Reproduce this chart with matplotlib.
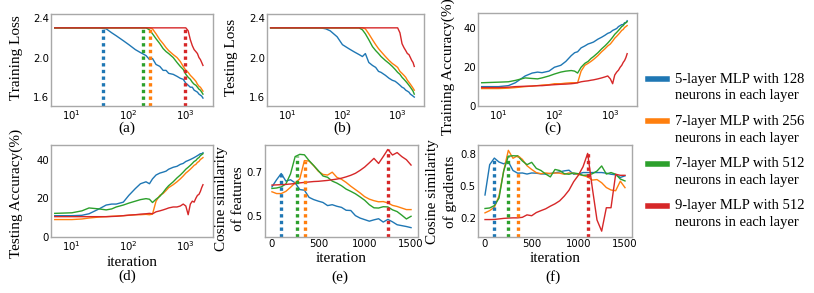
import numpy as np
import matplotlib
matplotlib.use('Agg')
import matplotlib.pyplot as plt
from matplotlib.lines import Line2D

# colours / legend text for the four models
colors = ['#1f77b4', '#ff7f0e', '#2ca02c', '#d62728']
labels = ['5-layer MLP with 128\nneurons in each layer',
          '7-layer MLP with 256\nneurons in each layer',
          '7-layer MLP with 512\nneurons in each layer',
          '9-layer MLP with 512\nneurons in each layer']

# iterations for the log-scale panels
it_log = [5, 10, 15, 20, 30, 40, 50, 60, 80, 100, 130, 160, 200, 230, 260, 300, 350, 400,
          450, 500, 600, 700, 800, 900, 1000, 1100, 1200, 1300, 1400, 1500, 1600, 1700,
          1800, 1900, 2000]

# (a) training loss  (blue, orange, green, red)
train_loss_blue = [2.30, 2.30, 2.30, 2.30, 2.30, 2.29, 2.25, 2.22, 2.17, 2.13, 2.08, 2.05, 2.02,
                   1.98, 1.99, 1.93, 1.91, 1.87, 1.87, 1.84, 1.83, 1.81, 1.79, 1.78, 1.74, 1.72,
                   1.70, 1.70, 1.67, 1.66, 1.65, 1.63, 1.62, 1.61, 1.59]
train_loss_orange = [2.30, 2.30, 2.30, 2.30, 2.30, 2.30, 2.30, 2.30, 2.30, 2.30, 2.30, 2.30, 2.30,
                     2.30, 2.29, 2.24, 2.18, 2.14, 2.10, 2.07, 2.03, 2.00, 1.96, 1.91, 1.87, 1.85,
                     1.82, 1.80, 1.78, 1.76, 1.73, 1.71, 1.70, 1.68, 1.66]
train_loss_green = [2.30, 2.30, 2.30, 2.30, 2.30, 2.30, 2.30, 2.30, 2.30, 2.30, 2.30, 2.30, 2.30,
                    2.28, 2.24, 2.19, 2.14, 2.09, 2.06, 2.04, 2.00, 1.95, 1.91, 1.88, 1.83, 1.80,
                    1.78, 1.75, 1.73, 1.72, 1.70, 1.68, 1.67, 1.65, 1.63]
train_loss_red = [2.30, 2.30, 2.30, 2.30, 2.30, 2.30, 2.30, 2.30, 2.30, 2.30, 2.30, 2.30, 2.30,
                  2.30, 2.30, 2.30, 2.30, 2.30, 2.30, 2.30, 2.30, 2.30, 2.30, 2.30, 2.30, 2.27,
                  2.18, 2.12, 2.08, 2.06, 2.04, 2.00, 1.98, 1.95, 1.92]
train_loss_marks = [35, 233, 176, 960]

# (b) testing loss
test_loss_blue = [2.30, 2.30, 2.30, 2.30, 2.30, 2.30, 2.29, 2.27, 2.21, 2.13, 2.09, 2.06, 2.03,
                  2.01, 2.04, 1.95, 1.92, 1.90, 1.86, 1.85, 1.82, 1.79, 1.77, 1.76, 1.74, 1.72,
                  1.70, 1.69, 1.67, 1.66, 1.65, 1.63, 1.62, 1.61, 1.60]
test_loss_orange = [2.30, 2.30, 2.30, 2.30, 2.30, 2.30, 2.30, 2.30, 2.30, 2.30, 2.30, 2.30, 2.30,
                    2.30, 2.29, 2.24, 2.18, 2.13, 2.09, 2.06, 2.01, 1.97, 1.94, 1.92, 1.90, 1.86,
                    1.84, 1.82, 1.80, 1.77, 1.75, 1.73, 1.71, 1.69, 1.67]
test_loss_green = [2.30, 2.30, 2.30, 2.30, 2.30, 2.30, 2.30, 2.30, 2.30, 2.30, 2.30, 2.30, 2.30,
                   2.28, 2.24, 2.18, 2.11, 2.07, 2.04, 2.01, 1.97, 1.94, 1.91, 1.88, 1.85, 1.83,
                   1.80, 1.78, 1.76, 1.74, 1.72, 1.70, 1.68, 1.66, 1.63]
test_loss_red = [2.30, 2.30, 2.30, 2.30, 2.30, 2.30, 2.30, 2.30, 2.30, 2.30, 2.30, 2.30, 2.30,
                 2.30, 2.30, 2.30, 2.30, 2.30, 2.30, 2.30, 2.30, 2.30, 2.30, 2.30, 2.30, 2.25,
                 2.14, 2.10, 2.07, 2.04, 2.03, 2.00, 1.97, 1.95, 1.91]

# (c) training accuracy (%)
train_acc_blue = [10, 10, 10.5, 12, 15.5, 17, 17.5, 17.2, 18, 20, 21, 23, 26, 27.5, 28, 30, 31,
                  32, 32.5, 33, 34.5, 35.5, 36.5, 37.5, 38, 39, 39.5, 40, 41, 41.5, 42, 42, 43,
                  43, 44]
train_acc_orange = [9, 9, 9.2, 9.5, 10, 10.3, 10.5, 10.8, 11, 11.5, 11.5, 11.8, 12, 12, 12, 18,
                    21, 22, 23, 24, 26, 28, 29.5, 31, 32, 33.5, 35, 36, 37, 38, 39, 39.5, 40.5,
                    41, 41.5]
train_acc_green = [12, 12.3, 12.5, 13.2, 14.5, 14.2, 14, 14.5, 15.5, 16.5, 17.5, 18, 18.3, 18,
                   17, 20, 22, 23, 24.5, 25.5, 27.5, 29.5, 31, 32.5, 34, 35.5, 37, 38, 39, 40,
                   41, 41.5, 42.5, 43, 43.5]
train_acc_red = [9.5, 9.5, 9.7, 10, 10.2, 10.3, 10.5, 10.5, 10.8, 11, 11.2, 11.3, 11.5, 11.7,
                 12, 12.5, 12.8, 13, 13.3, 13.5, 14, 14.5, 15, 15.5, 14, 11.5, 16, 17.5, 18.5,
                 20, 21, 22.5, 23.5, 25, 27]

# (d) testing accuracy (%)
test_acc_blue = [11, 11, 11.2, 12, 14.5, 16.5, 17, 17, 18, 21.5, 25, 27.5, 28.5, 27.5, 30, 32,
                 33, 33.5, 34, 35, 36, 36.5, 37.5, 38, 39, 39.5, 40, 40.5, 41, 41.5, 42, 42.5,
                 43, 43, 43.5]
test_acc_orange = [9, 9, 9.3, 9.8, 10.3, 10.5, 10.7, 10.8, 11, 11.2, 11.5, 11.5, 11.7, 11.5,
                   11.8, 18.5, 21.5, 22.5, 24, 25.5, 27, 28.5, 30, 31.5, 33, 34, 35, 36, 37,
                   37.5, 38.5, 39, 40, 40.5, 41]
test_acc_green = [12.2, 12.5, 13.5, 15, 14.5, 14, 14.5, 15.5, 16.5, 17.5, 18.5, 19.3, 19.8,
                  19.5, 17.8, 19.5, 21, 23, 25, 26.5, 28.5, 30.5, 32, 33.5, 35, 36, 37, 38, 39,
                  39.5, 40.5, 41, 42, 42.5, 43]
test_acc_red = [10.5, 10.5, 10.5, 10.5, 10.5, 10.5, 10.6, 10.7, 11, 11.3, 11.5, 11.8, 12, 12.2,
                12, 13, 13.5, 14, 14.5, 15, 15.5, 15.5, 16, 17, 16, 11.5, 17, 18.5, 18, 20,
                21.5, 22, 23.5, 25.5, 27]

# iterations for the linear panels
it_lin = list(range(0, 1501, 50))

# (e) cosine similarity of features
feat_blue = [0.632, 0.664, 0.692, 0.658, 0.664, 0.650, 0.620, 0.617, 0.585, 0.575, 0.568,
             0.562, 0.548, 0.552, 0.545, 0.540, 0.527, 0.526, 0.503, 0.492, 0.485, 0.478,
             0.484, 0.489, 0.474, 0.486, 0.475, 0.462, 0.458, 0.454, 0.449]
feat_orange = [0.610, 0.602, 0.602, 0.612, 0.630, 0.650, 0.668, 0.750, 0.748, 0.727, 0.702,
               0.688, 0.685, 0.698, 0.675, 0.666, 0.652, 0.635, 0.620, 0.605, 0.588, 0.577,
               0.570, 0.565, 0.566, 0.560, 0.549, 0.544, 0.537, 0.530, 0.530]
feat_green = [0.625, 0.627, 0.632, 0.645, 0.690, 0.768, 0.778, 0.776, 0.750, 0.728, 0.705,
              0.681, 0.675, 0.658, 0.649, 0.637, 0.622, 0.612, 0.601, 0.587, 0.572, 0.552,
              0.538, 0.537, 0.543, 0.542, 0.529, 0.521, 0.505, 0.488, 0.500]
feat_red = [0.640, 0.641, 0.642, 0.643, 0.645, 0.647, 0.650, 0.652, 0.654, 0.656, 0.657,
            0.659, 0.661, 0.664, 0.667, 0.671, 0.677, 0.684, 0.693, 0.706, 0.721, 0.740,
            0.760, 0.737, 0.768, 0.800, 0.775, 0.786, 0.768, 0.754, 0.730]
feat_marks = [100, 360, 270, 1250]

# (f) cosine similarity of gradients
grad_blue = [0.415, 0.700, 0.762, 0.725, 0.708, 0.728, 0.645, 0.620, 0.622, 0.612, 0.622,
             0.620, 0.613, 0.612, 0.617, 0.623, 0.632, 0.642, 0.648, 0.610, 0.612, 0.626,
             0.626, 0.626, 0.626, 0.626, 0.620, 0.610, 0.605, 0.580, 0.595]
grad_orange = [0.247, 0.268, 0.300, 0.405, 0.640, 0.835, 0.760, 0.784, 0.750, 0.690, 0.655,
               0.625, 0.615, 0.622, 0.617, 0.622, 0.620, 0.610, 0.622, 0.618, 0.608, 0.598,
               0.585, 0.555, 0.560, 0.530, 0.485, 0.462, 0.455, 0.545, 0.484]
grad_green = [0.288, 0.293, 0.315, 0.385, 0.640, 0.780, 0.784, 0.782, 0.735, 0.700, 0.722,
              0.665, 0.645, 0.612, 0.585, 0.655, 0.645, 0.615, 0.610, 0.622, 0.615, 0.600,
              0.602, 0.615, 0.640, 0.688, 0.612, 0.626, 0.610, 0.565, 0.547]
grad_red = [0.184, 0.184, 0.185, 0.190, 0.195, 0.198, 0.200, 0.200, 0.205, 0.228, 0.220,
            0.250, 0.268, 0.285, 0.310, 0.332, 0.360, 0.405, 0.460, 0.540, 0.600, 0.680,
            0.806, 0.480, 0.180, 0.075, 0.295, 0.295, 0.610, 0.600, 0.600]
grad_marks = [100, 350, 250, 1100]

serif = 'Liberation Serif'
plt.rcParams['font.family'] = ['DejaVu Sans']

fig = plt.figure(figsize=(8.14, 2.93), dpi=100)


def make_ax(left, top, right, bottom):
    # pixel box -> figure fraction
    ax = fig.add_axes([left / 814, 1 - bottom / 293, (right - left) / 814, (bottom - top) / 293])
    for s in ax.spines.values():
        s.set_color('#a8a8a8')
        s.set_linewidth(1.0)
    ax.tick_params(length=0, pad=1.5, labelsize=7.3)
    return ax


def draw(ax, x, series, marks=None):
    for ys, c in zip(series, colors):
        ax.plot(x, ys, color=c, lw=1.0)
    if marks is not None:
        y0 = ax.get_ylim()[0]
        for m, ys, c in zip(marks, series, colors):
            top = np.interp(m, x, ys)
            ax.vlines(m, y0, top, colors=c, lw=2.4, linestyles=(0, (1, 1)))


def ylab(ax, text, x, y):
    ax.set_ylabel(text, fontsize=11, family=serif, linespacing=1.45)
    ax.yaxis.set_label_coords(x, y)


# (a)
ax = make_ax(51, 14, 213, 106)
ax.set_xscale('log')
ax.set_xlim(4.3, 3000)
ax.set_ylim(1.51, 2.44)
ax.set_yticks([1.6, 2.0, 2.4])
draw(ax, it_log, [train_loss_blue, train_loss_orange, train_loss_green, train_loss_red],
     train_loss_marks)
ax.minorticks_off()
ylab(ax, 'Training Loss', -0.17, 0.53)

# (b)
ax = make_ax(267, 14, 424, 106)
ax.set_xscale('log')
ax.set_xlim(4.3, 3000)
ax.set_ylim(1.51, 2.44)
ax.set_yticks([1.6, 2.0, 2.4])
draw(ax, it_log, [test_loss_blue, test_loss_orange, test_loss_green, test_loss_red])
ax.minorticks_off()
ylab(ax, 'Testing Loss', -0.185, 0.53)

# (c)
ax = make_ax(478, 13, 637, 106)
ax.set_xscale('log')
ax.set_xlim(4.3, 3000)
ax.set_ylim(0, 48)
ax.set_yticks([0, 20, 40])
draw(ax, it_log, [train_acc_blue, train_acc_orange, train_acc_green, train_acc_red])
ax.minorticks_off()
ylab(ax, 'Training Accuracy(%)', -0.145, 0.42)

# (d)
ax = make_ax(51, 145, 213, 237)
ax.set_xscale('log')
ax.set_xlim(4.3, 3000)
ax.set_ylim(0, 47.5)
ax.set_yticks([0, 20, 40])
draw(ax, it_log, [test_acc_blue, test_acc_orange, test_acc_green, test_acc_red])
ax.minorticks_off()
ylab(ax, 'Testing Accuracy(%)', -0.17, 0.47)
ax.set_xlabel('iteration', fontsize=11, family=serif, labelpad=2)

# (e)
ax = make_ax(265, 145, 418, 237)
ax.set_xlim(-75, 1575)
ax.set_ylim(0.407, 0.82)
ax.set_yticks([0.5, 0.7])
ax.set_xticks([0, 500, 1000, 1500])
draw(ax, it_lin, [feat_blue, feat_orange, feat_green, feat_red], feat_marks)
ylab(ax, 'Cosine similarity\nof features', -0.13, 0.42)
ax.set_xlabel('iteration', fontsize=11, family=serif, labelpad=2)

# (f)
ax = make_ax(478, 145, 632, 237)
ax.set_xlim(-75, 1575)
ax.set_ylim(0.02, 0.885)
ax.set_yticks([0.2, 0.5, 0.8])
ax.set_xticks([0, 500, 1000, 1500])
draw(ax, it_lin, [grad_blue, grad_orange, grad_green, grad_red], grad_marks)
ylab(ax, 'Cosine similarity\nof gradients', -0.135, 0.49)
ax.set_xlabel('iteration', fontsize=11, family=serif, labelpad=2)

# sub-figure captions
for cx, cy, t in [(127, 128, '(a)'), (342, 128, '(b)'), (553, 128, '(c)'),
                  (127, 276, '(d)'), (340, 277, '(e)'), (553, 277, '(f)')]:
    fig.text(cx / 814, 1 - cy / 293, t, ha='center', va='center', fontsize=11, family=serif)

# legend on the right: thick handle next to the first line of each two-line label
for i, (lab, c) in enumerate(zip(labels, colors)):
    ly = 79 + i * 42.3
    fig.add_artist(Line2D([648 / 814, 667 / 814], [1 - ly / 293, 1 - ly / 293],
                          transform=fig.transFigure, color=c, lw=4))
    for j, line in enumerate(lab.split('\n')):
        fig.text(675 / 814, 1 - (ly + 17 * j) / 293, line, ha='left', va='center',
                 fontsize=10.5, family=serif)

fig.savefig('out.png', dpi=100, facecolor='white')
